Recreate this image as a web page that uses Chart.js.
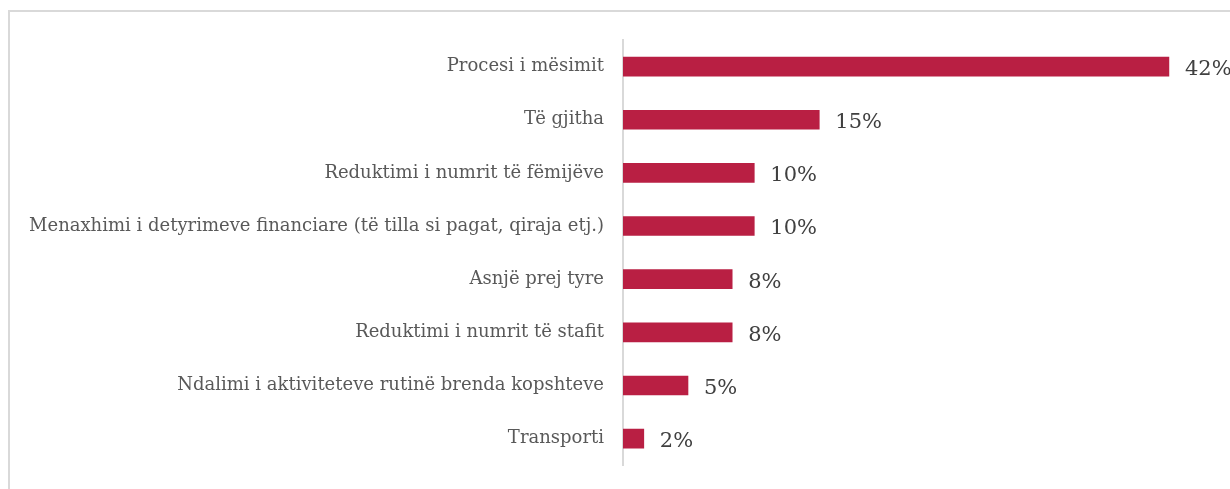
<!DOCTYPE html>
<html>
<head>
<meta charset="utf-8">
<script src="https://cdn.jsdelivr.net/npm/chart.js@4"></script>
<style>
  html, body { margin: 0; padding: 0; background: #fff; overflow: hidden; }
  #wrap { position: relative; width: 1230px; height: 489px; overflow: hidden; }
  #frame { position: absolute; left: 8px; top: 10px; width: 1260px; height: 520px; border: 2px solid #d9d9d9; box-sizing: border-box; }
  canvas { position: absolute; left: 0; top: 0; }
</style>
</head>
<body>
<div id="wrap">
  <div id="frame"></div>
  <canvas id="chart" width="1230" height="495"></canvas>
</div>
<script>
const categories = [
    'Procesi i mësimit',
    'Të gjitha',
    'Reduktimi i numrit të fëmijëve',
    'Menaxhimi i detyrimeve financiare (të tilla si pagat, qiraja etj.)',
    'Asnjë prej tyre',
    'Reduktimi i numrit të stafit',
    'Ndalimi i aktiviteteve rutinë brenda kopshteve',
    'Transporti'
];
const values = [42, 15.1, 10.1, 10.1, 8.4, 8.4, 5.0, 1.6];
const valueLabels = ['42%', '15%', '10%', '10%', '8%', '8%', '5%', '2%'];

const barLabels = {
    id: 'barLabels',
    afterDatasetsDraw(chart) {
        const ctx = chart.ctx;
        const meta = chart.getDatasetMeta(0);
        ctx.save();
        ctx.font = '21px "DejaVu Serif", serif';
        ctx.fillStyle = '#404040';
        ctx.textAlign = 'left';
        ctx.textBaseline = 'middle';
        meta.data.forEach((bar, i) => {
            ctx.fillText(valueLabels[i], bar.x + 16, bar.y + 3);
        });
        ctx.restore();
    }
};

new Chart(document.getElementById('chart'), {
    type: 'bar',
    data: {
        labels: categories,
        datasets: [{
            data: values,
            backgroundColor: '#b91f43',
            barThickness: 19
        }]
    },
    options: {
        indexAxis: 'y',
        responsive: false,
        animation: false,
        layout: { padding: { top: 40, bottom: 10, left: 0, right: 0 } },
        plugins: {
            legend: { display: false },
            tooltip: { enabled: false }
        },
        scales: {
            x: {
                display: false,
                min: 0,
                max: 46.7
            },
            y: {
                afterFit(scale) { scale.width = 623; },
                grid: { display: false, drawTicks: false },
                border: { color: '#d9d9d9', width: 2 },
                ticks: {
                    color: '#595959',
                    padding: 19,
                    font: { family: '"DejaVu Serif", serif', size: 18 }
                }
            }
        }
    },
    plugins: [barLabels]
});
</script>
</body>
</html>
